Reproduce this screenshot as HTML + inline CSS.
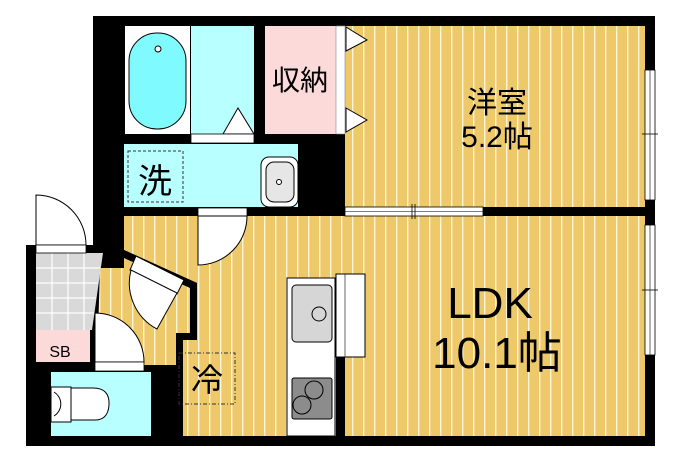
<!DOCTYPE html>
<html><head><meta charset="utf-8"><style>
html,body{margin:0;padding:0;background:#fff;}
svg{display:block}
text{font-family:"Liberation Sans","Noto Sans CJK JP",sans-serif;fill:#000}
</style></head><body>
<svg width="689" height="462" viewBox="0 0 689 462" xmlns="http://www.w3.org/2000/svg">
<defs>
<pattern id="fl" x="0" y="0" width="11" height="10" patternUnits="userSpaceOnUse">
<rect width="11" height="10" fill="#EDC96A"/><rect x="0" width="1.4" height="10" fill="#FFF4D6"/>
</pattern>
</defs>
<rect x="93" y="16" width="562" height="430" fill="#000"/>
<rect x="26" y="245" width="160" height="201" fill="#000"/>
<rect x="345" y="26" width="300" height="181" fill="url(#fl)"/>
<polygon points="124,216 645,216 645,436 183,436 183,340 197,340 197,283 124,250" fill="url(#fl)"/>
<polygon points="100,268 124,268 124,250 190,283 190,333 176,333 176,365 97,365" fill="url(#fl)"/>
<polygon points="124,250 197,283 197,340 176,340 176,333 190,333 190,288 124,258" fill="#000"/>
<rect x="93" y="216" width="31" height="52" fill="#000"/>
<rect x="176" y="333" width="7" height="103" fill="#000"/>
<polygon points="136,256 184,280 177,294 130,270" fill="#fff" stroke="#000"/>
<path d="M131,270 A52,52 0 0 0 157,329 L177,293 Z" fill="#fff" stroke="#000"/>
<polygon points="36,253 103,253 92,330 36,330" fill="#D9D9D9"/>
<g stroke="#fff" stroke-width="1.2">
<line x1="52" y1="253" x2="52" y2="330"/><line x1="68" y1="253" x2="68" y2="330"/><line x1="84" y1="253" x2="84" y2="330"/>
<line x1="36" y1="268" x2="100" y2="268"/><line x1="36" y1="283" x2="98" y2="283"/><line x1="36" y1="298" x2="96" y2="298"/><line x1="36" y1="313" x2="94" y2="313"/>
</g>
<rect x="36" y="330" width="54" height="32" fill="#FDDADA"/>
<text x="60" y="357" font-size="16" text-anchor="middle">SB</text>
<rect x="36" y="195" width="50" height="50" fill="#fff"/>
<path d="M36,195 A50,50 0 0 1 86,245 L36,245 Z" fill="#fff" stroke="#000"/>
<rect x="36" y="245" width="50" height="8" fill="#fff" stroke="#000" stroke-width="0.8"/>
<path d="M95,313 A49,49 0 0 1 144,362 L95,362 Z" fill="#fff" stroke="#000"/>
<rect x="95" y="362" width="49" height="9" fill="#fff" stroke="#000" stroke-width="0.8"/>
<rect x="51" y="372" width="100" height="64" fill="#B8FFFF"/>
<path d="M70,388 L93,388 Q110,388 109,405 Q108,421 93,420 L70,420 Z" fill="#fff" stroke="#000"/>
<rect x="51" y="387" width="20" height="35" fill="#fff" stroke="#000"/>
<path d="M54,392 A14,14 0 0 1 54,416" fill="none" stroke="#000"/>
<rect x="125" y="26" width="65" height="108" fill="#fff"/>
<rect x="129" y="33" width="57" height="96" rx="28" fill="#7FFBFF" stroke="#000"/>
<circle cx="158" cy="49" r="3" fill="#fff" stroke="#000"/>
<rect x="191" y="26" width="63" height="108" fill="#B8FFFF"/>
<polygon points="223,134 238,108 254,134" fill="#fff" stroke="#000"/>
<rect x="191" y="134" width="63" height="9" fill="#fff" stroke="#000" stroke-width="0.8"/>
<rect x="265" y="26" width="71" height="108" fill="#FDDADA"/>
<rect x="336" y="26" width="9" height="108" fill="#fff" stroke="#888" stroke-width="0.6"/>
<polygon points="346,27 367,40 346,51" fill="#fff" stroke="#000"/>
<polygon points="346,108 367,120 346,132" fill="#fff" stroke="#000"/>
<text x="300" y="90" font-size="28" text-anchor="middle">収納</text>
<rect x="124" y="144" width="174" height="63" fill="#B8FFFF"/>
<rect x="128" y="151" width="55" height="51" fill="none" stroke="#333" stroke-dasharray="3,2"/>
<text x="155" y="193" font-size="34" text-anchor="middle">洗</text>
<rect x="261" y="157" width="37" height="50" rx="8" fill="#fff" stroke="#000"/>
<rect x="266" y="162" width="28" height="40" rx="8" fill="#E6E6E6" stroke="#000"/>
<circle cx="279" cy="182" r="2.5" fill="#fff" stroke="#000"/>
<rect x="198" y="208" width="49" height="8" fill="#fff" stroke="#000" stroke-width="0.8"/>
<path d="M198,216 L247,216 A49,49 0 0 1 198,265 Z" fill="#fff" stroke="#000"/>
<rect x="345" y="207" width="138" height="9" fill="#fff" stroke="#000" stroke-width="0.8"/>
<line x1="345" y1="211.5" x2="483" y2="211.5" stroke="#000" stroke-width="0.6"/>
<line x1="412" y1="204" x2="412" y2="219" stroke="#000" stroke-width="0.8"/>
<line x1="415" y1="204" x2="415" y2="219" stroke="#000" stroke-width="0.8"/>
<rect x="645" y="70" width="10" height="130" fill="#fff" stroke="#000" stroke-width="0.8"/>
<line x1="650" y1="70" x2="650" y2="200" stroke="#000" stroke-width="0.6"/>
<line x1="642" y1="134" x2="658" y2="134" stroke="#000" stroke-width="0.8"/>
<rect x="645" y="225" width="10" height="130" fill="#fff" stroke="#000" stroke-width="0.8"/>
<line x1="650" y1="225" x2="650" y2="355" stroke="#000" stroke-width="0.6"/>
<line x1="642" y1="290" x2="658" y2="290" stroke="#000" stroke-width="0.8"/>
<rect x="287" y="278" width="48" height="158" fill="#fff" stroke="#000"/>
<rect x="292" y="285" width="40" height="57" rx="4" fill="#D6D6D6" stroke="#000"/>
<circle cx="319" cy="314" r="7" fill="none" stroke="#000"/>
<rect x="292" y="378" width="40" height="41" rx="2" fill="#8C8C8C" stroke="#000"/>
<circle cx="314" cy="390" r="9" fill="none" stroke="#000"/>
<circle cx="302" cy="405" r="9" fill="none" stroke="#000"/>
<rect x="336" y="274" width="29" height="83" fill="#fff" stroke="#000"/>
<line x1="345" y1="274" x2="345" y2="357" stroke="#000" stroke-width="0.6"/>
<rect x="336" y="357" width="9" height="79" fill="#000"/>
<rect x="179" y="353" width="56" height="51" fill="none" stroke="#333" stroke-dasharray="4,2,1,2"/>
<text x="207" y="391" font-size="32" text-anchor="middle">冷</text>
<text x="497" y="113" font-size="30" text-anchor="middle">洋室</text>
<text x="497" y="147" font-size="30" text-anchor="middle">5.2帖</text>
<text x="490" y="318" font-size="44" text-anchor="middle">LDK</text>
<text x="497" y="368" font-size="44" text-anchor="middle">10.1帖</text>
</svg>
</body></html>
